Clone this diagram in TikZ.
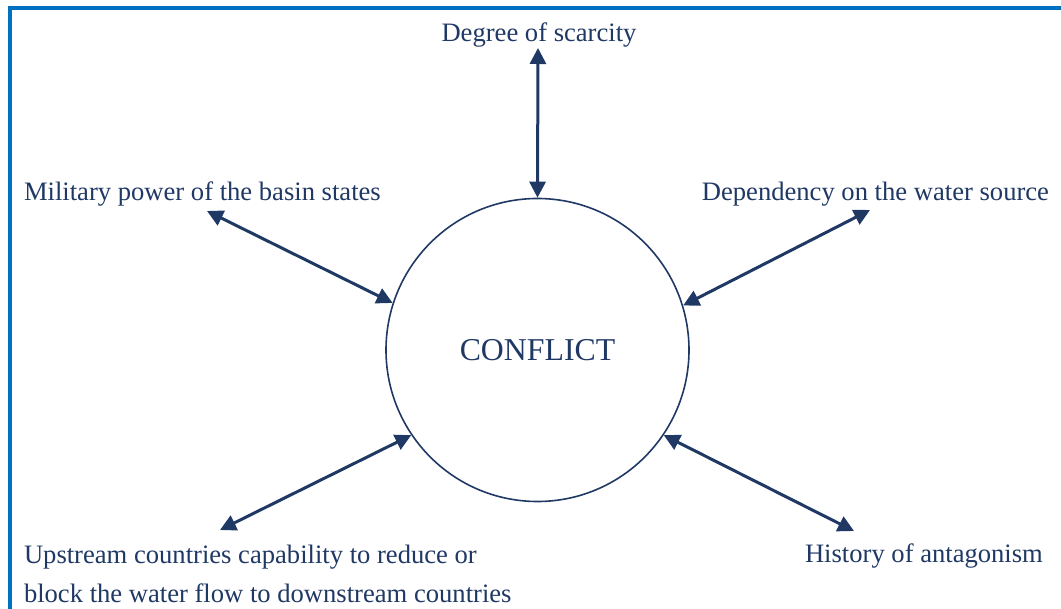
\documentclass[tikz,border=0pt]{standalone}
\usepackage{fontspec}
\setmainfont{Liberation Serif}
\usetikzlibrary{arrows.meta}
\definecolor{ink}{HTML}{1F3864}
\definecolor{frameblue}{HTML}{0070C0}
\begin{document}
\begin{tikzpicture}[x=1pt,y=-1pt,
  label/.style={inner sep=0pt,outer sep=0pt,text=ink,font=\fontsize{26.6}{39}\selectfont},
  link/.style={draw=ink,line width=3pt,{Triangle[length=16pt,width=16pt]}-{Triangle[length=16pt,width=16pt]}}]
  \useasboundingbox (0,0) rectangle (1061,609);
  % frame along the left and top edges
  \draw[frameblue,line width=3.5pt] (10,609) -- (10,8) -- (1061,8);
  % central circle
  \node[circle,draw=ink,line width=1.6pt,minimum size=303pt,inner sep=0pt,
        text=ink,font=\fontsize{31.8}{36}\selectfont] (c) at (537.5,350) {CONFLICT};
  % factors around it
  \node[label,anchor=base] (deg) at (539,42) {Degree of scarcity};
  \node[label,anchor=base west] (mil) at (24,201) {Military power of the basin states};
  \node[label,anchor=base east] (dep) at (1049,201) {Dependency on the water source};
  \node[label,anchor=north west,align=left] (up) at (24,545)
    {Upstream countries capability to reduce or\\block the water flow to downstream countries};
  \node[label,anchor=base west] (his) at (805,562.5) {History of antagonism};
  % free ends of the connectors
  \coordinate (degA) at (538,48);
  \coordinate (milA) at (207,211);
  \coordinate (depA) at (870,210);
  \coordinate (upA) at (220,530);
  \coordinate (hisA) at (854,531);
  % connectors
  \draw[link] (degA) -- (c.90);
  \draw[link] (milA) -- (c.162.4);
  \draw[link] (depA) -- (c.17.7);
  \draw[link] (upA) -- (c.214);
  \draw[link] (hisA) -- (c.-34.5);
\end{tikzpicture}
\end{document}
